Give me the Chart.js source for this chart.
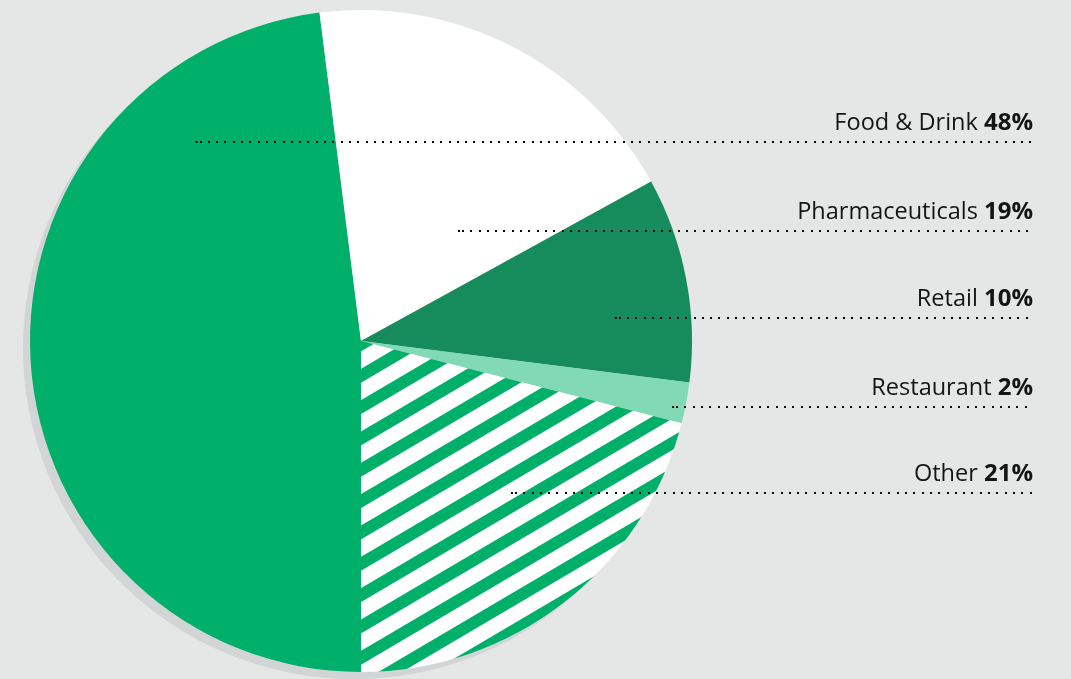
<!DOCTYPE html>
<html>
<head>
<meta charset="utf-8">
<script src="https://cdn.jsdelivr.net/npm/chart.js@4/dist/chart.umd.min.js"></script>
<style>
  html, body { margin: 0; padding: 0; background: #e5e7e6; }
  #wrap { width: 1071px; height: 679px; }
</style>
</head>
<body>
<div id="wrap"><canvas id="pieChart"></canvas></div>
<script>
const categories = ["Food & Drink", "Pharmaceuticals", "Retail", "Restaurant", "Other"];
const shares = [48, 19, 10, 2, 21];

// where each dotted leader starts (x) and sits (y), in units of the pie radius from the centre
const leaderStartX = [-0.50, 0.293, 0.767, 0.94, 0.453];
const leaderY = [-0.601, -0.332, -0.069, 0.199, 0.459];

const GREEN = "#00af6a";

function stripePattern() {
    const size = 27;
    const c = document.createElement("canvas");
    c.width = size; c.height = size;
    const g = c.getContext("2d");
    g.fillStyle = GREEN;
    g.fillRect(0, 0, size, size);
    g.fillStyle = "#ffffff";
    g.fillRect(0, 0, size, 15);
    const pat = g.createPattern(c, "repeat");
    pat.setTransform(new DOMMatrix().rotate(-30.5));
    return pat;
}

const shadowPlugin = {
    id: "pieShadow",
    beforeDatasetsDraw(chart) {
        const arc = chart.getDatasetMeta(0).data[0];
        const ctx = chart.ctx;
        ctx.save();
        ctx.fillStyle = "#d2d5d5";
        ctx.beginPath();
        ctx.arc(arc.x - 7, arc.y + 7, arc.outerRadius, 0, Math.PI * 2);
        ctx.fill();
        ctx.restore();
    }
};

const leaderPlugin = {
    id: "leaders",
    afterDatasetsDraw(chart) {
        const arc = chart.getDatasetMeta(0).data[0];
        const r = arc.outerRadius;
        const ctx = chart.ctx;
        const right = 1033;
        ctx.save();
        categories.forEach((name, i) => {
            const y = Math.round(arc.y + leaderY[i] * r);
            const x0 = arc.x + leaderStartX[i] * r;
            // dotted leader
            ctx.fillStyle = "#000";
            ctx.fillRect(x0, y - 1, 2, 2);
            for (let x = x0 + 4; x <= right; x += 8.3) {
                ctx.fillRect(Math.round(x), y - 1, 2, 2);
            }
            // label: name + bold percentage
            const pct = shares[i] + "%";
            ctx.textBaseline = "alphabetic";
            ctx.font = "bold 24px 'Open Sans'";
            const pw = ctx.measureText(pct).width;
            ctx.fillStyle = "#141414";
            ctx.textAlign = "right";
            ctx.fillText(pct, right, y - 12);
            ctx.font = "23.5px 'Open Sans'";
            ctx.fillText(name + " ", right - pw, y - 12);
        });
        ctx.restore();
    }
};

new Chart(document.getElementById("pieChart"), {
    type: "pie",
    data: {
        labels: categories,
        datasets: [{
            data: shares,
            backgroundColor: [GREEN, "#ffffff", "#168b5b", "#82d9b5", stripePattern()],
            borderWidth: 0
        }]
    },
    options: {
        responsive: true,
        maintainAspectRatio: false,
        animation: false,
        rotation: 180,
        layout: { padding: { left: 30, right: 379, top: 10, bottom: 7 } },
        plugins: {
            legend: { display: false },
            tooltip: { enabled: false }
        }
    },
    plugins: [shadowPlugin, leaderPlugin]
});
</script>
</body>
</html>
